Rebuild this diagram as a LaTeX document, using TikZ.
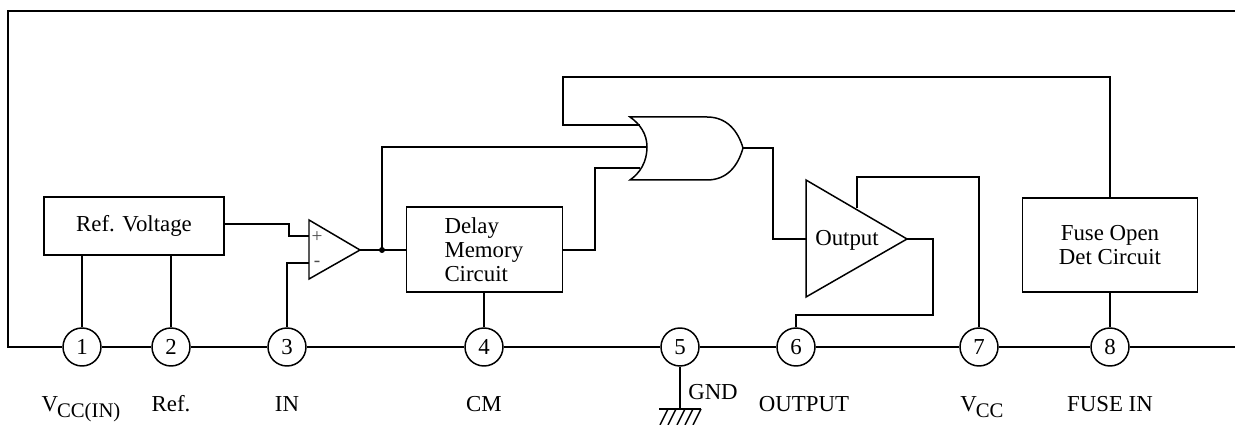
\documentclass[tikz,border=0pt]{standalone}
\usepackage{fontspec}
\setmainfont{Liberation Serif}
\newcommand{\subtxt}[1]{\kern-0.6pt\raisebox{-3pt}{\fontsize{11.8}{12}\selectfont #1}}
\tikzset{
	wire/.style={line width=0.85pt, line join=miter},
	pin/.style={draw, circle, line width=0.85pt, fill=white, minimum size=0.76cm, inner sep=0pt, font=\fontsize{13}{14}\selectfont},
	block/.style={draw, rectangle, line width=0.85pt, inner sep=0pt, align=center, font=\fontsize{13}{13.7}\selectfont},
	lbl/.style={inner sep=0pt, anchor=base, font=\fontsize{13}{14}\selectfont},
	sign/.style={inner sep=0pt, text=black!70, font=\fontsize{11}{12}\selectfont}
}

\begin{document}
\begin{tikzpicture}[x=0.02cm, y=-0.02cm]
	\useasboundingbox (0, 0) rectangle (1235, 425);
	%%%%% START %%%%%

	\coordinate (lineL) at (8, 347);
	\coordinate (lineR) at (1235, 347);
	\coordinate (topL) at (8, 11);
	\coordinate (topR) at (1235, 11);

	\node[pin] (p1) at (82, 347) {1};
	\node[pin] (p2) at (171, 347) {2};
	\node[pin] (p3) at (287, 347) {3};
	\node[pin] (p4) at (484, 347) {4};
	\node[pin] (p5) at (680, 347) {5};
	\node[pin] (p6) at (796, 347) {6};
	\node[pin] (p7) at (979, 347) {7};
	\node[pin] (p8) at (1110, 347) {8};

	\draw[wire] (topR) -- (topL) -- (lineL) -- (p1) -- (p2) -- (p3) -- (p4) -- (p5) -- (p6) -- (p7) -- (p8) -- (lineR);

	\node[block, minimum width=3.6cm, minimum height=1.16cm] (refv) at (134, 226) {Ref. Voltage};
	\node[block, minimum width=3.12cm, minimum height=1.7cm, align=left, text width=1.6cm] (delay) at (484.5, 249.5) {Delay\\Memory\\Circuit};
	\node[block, minimum width=3.5cm, minimum height=1.88cm] (fuse) at (1110, 245) {Fuse Open\\Det Circuit};

	% comparator
	\coordinate (cmpT) at (309, 220);
	\coordinate (cmpB) at (309, 279);
	\coordinate (cmpO) at (360, 250);
	\coordinate (cmpP) at (309, 236);
	\coordinate (cmpM) at (309, 263);
	\draw[wire] (cmpT) -- (cmpO) -- (cmpB) -- cycle;
	\node[sign] (plus) at (317, 237) {+};
	\node[sign] (minus) at (317, 264) {-};

	\coordinate (refout) at (224, 224);
	\draw[wire] (refout) -- (289, 224) -- (289, 236) -- (cmpP);
	\draw[wire] (cmpM) -| (p3);
	\draw[wire] (p1) -- (p1 |- refv.south);
	\draw[wire] (p2) -- (p2 |- refv.south);

	\coordinate (dot) at (382, 250);
	\draw[wire] (cmpO) -- (delay.west |- dot);
	\draw[wire] (p4) -- (p4 |- delay.south);

	% or gate
	\coordinate (orIn) at (647, 147);
	\coordinate (orTop) at (640, 125);
	\coordinate (orBot) at (640, 168);
	\coordinate (orOut) at (743, 148);
	\draw[wire, fill=white] (630, 117) -- (707, 117) .. controls (727, 117) and (738, 131) .. (orOut)
		.. controls (738, 166) and (727, 180) .. (707, 180) -- (630, 180)
		.. controls (640, 173) and (647, 162) .. (orIn) .. controls (647, 134) and (640, 124) .. cycle;

	\draw[wire] (dot) |- (orIn);
	\fill (dot) circle (3);
	\draw[wire] (delay.east |- dot) -- (595, 250) |- (orBot);
	\draw[wire] (orTop) -- (563, 125) -- (563, 77) -| (fuse);

	% output amp
	\coordinate (ampT) at (806, 180);
	\coordinate (ampB) at (806, 297);
	\coordinate (ampO) at (907, 239);
	\coordinate (ampI) at (806, 239);
	\coordinate (ampV) at (857, 208);
	\draw[wire] (ampT) -- (ampO) -- (ampB) -- cycle;
	\node[lbl] (amp) at (847, 246) {Output};

	\draw[wire] (orOut) -- (773, 148) |- (ampI);
	\draw[wire] (ampV) -- (857, 177) -| (p7);
	\draw[wire] (ampO) -- (933, 239) -- (933, 315) -| (p6);
	\draw[wire] (p8) -- (fuse);

	% ground
	\coordinate (gnd) at (680, 409);
	\draw[wire] (p5) -- (gnd);
	\draw[wire] (659, 409) -- (701, 409);
	\foreach \x in {668, 676, 685, 693, 701}
		\draw[wire] (\x, 409) -- (\x-8, 425);
	\node[lbl] (gndl) at (713, 400) {GND};

	% pin labels
	\node[lbl] (l1) at (81, 412) {V\subtxt{CC(IN)}};
	\node[lbl] (l2) at (171, 412) {Ref.};
	\node[lbl] (l3) at (287, 412) {IN};
	\node[lbl] (l4) at (484, 412) {CM};
	\node[lbl] (l6) at (804, 412) {OUTPUT};
	\node[lbl] (l7) at (982, 412) {V\subtxt{CC}};
	\node[lbl] (l8) at (1110, 412) {FUSE IN};

	%%%%% END %%%%%
\end{tikzpicture}
\end{document}
